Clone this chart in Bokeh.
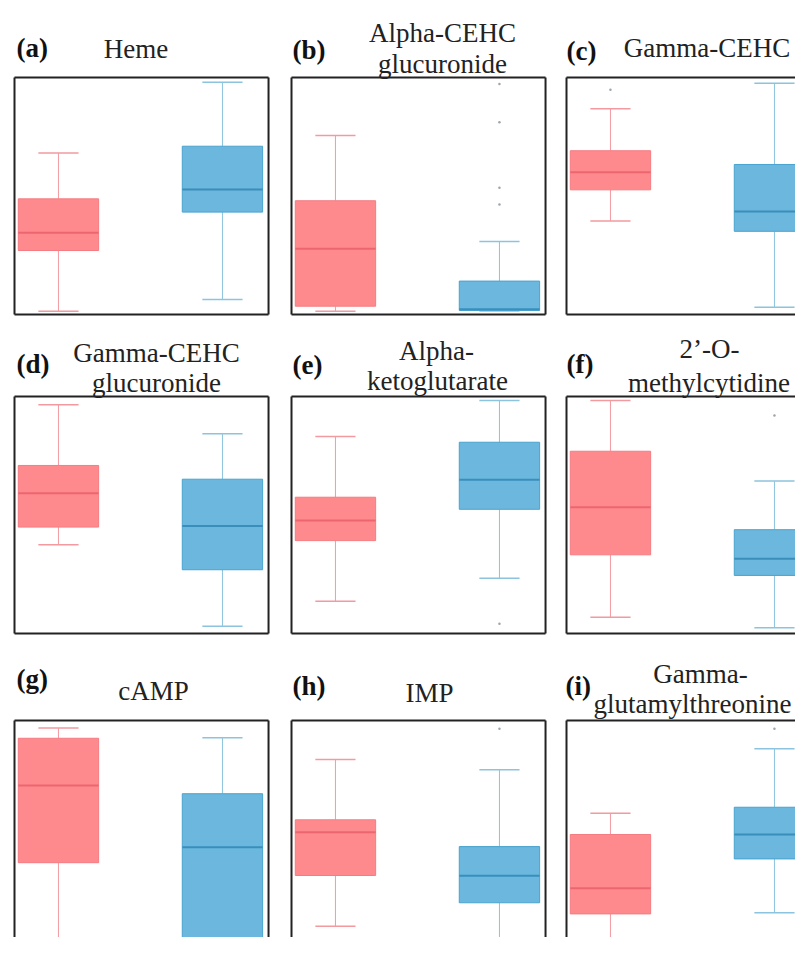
from bokeh.plotting import figure
from bokeh.layouts import column, row
from bokeh.models import Range1d, Label, ColumnDataSource
from bokeh.embed import file_html
from bokeh.resources import INLINE

# ---------------- data (arbitrary units 0-10) ----------------
tags = ["(a)", "(b)", "(c)", "(d)", "(e)", "(f)", "(g)", "(h)", "(i)"]
names = [["Heme"], ["Alpha-CEHC", "glucuronide"], ["Gamma-CEHC"],
         ["Gamma-CEHC", "glucuronide"], ["Alpha-", "ketoglutarate"], ["2\u2019-O-", "methylcytidine"],
         ["cAMP"], ["IMP"], ["Gamma-", "glutamylthreonine"]]
group_pos = [1, 2]  # red group, blue group

# [lower whisker, Q1, median, Q3, upper whisker]
red_stats = [
    [0.14, 2.70, 3.45, 4.88, 6.81],
    [0.14, 0.35, 2.77, 4.80, 7.55],
    [3.94, 5.26, 6.00, 6.91, 8.68],
    [3.74, 4.49, 5.92, 7.09, 9.65],
    [1.36, 3.92, 4.77, 5.75, 8.31],
    [0.69, 3.32, 5.33, 7.69, 9.83],
    [0.34, 4.00, 7.26, 9.25, 9.68],
    [1.32, 3.46, 5.29, 5.81, 8.35],
    [0.20, 1.84, 2.92, 5.19, 6.09],
]
blue_stats = [
    [0.63, 4.32, 5.27, 7.10, 9.80],
    [0.15, 0.17, 0.22, 1.41, 3.08],
    [0.31, 3.51, 4.35, 6.33, 9.76],
    [0.31, 2.69, 4.54, 6.51, 8.43],
    [2.33, 5.24, 6.49, 8.07, 9.83],
    [0.24, 2.45, 3.15, 4.38, 6.43],
    [0.30, 0.34, 4.65, 6.91, 9.27],
    [0.27, 2.31, 3.45, 4.68, 7.92],
    [1.89, 4.16, 5.19, 6.34, 8.81],
]
red_outliers = [[], [], [9.48], [], [], [], [], [], []]
blue_outliers = [[], [9.73, 8.11, 5.35, 4.64], [], [], [0.41], [9.20], [], [9.65], [9.65, 0.55]]

# panel value range (box frame) in data units
X_LO, X_HI = 0.732, 2.281
Y_LO, Y_HI = 0.0, 10.0

# ---------------- layout / style ----------------
FONT = "Liberation Serif"
FS = "27px"
BOX_W = 0.49
CAP_W = 0.245
RED = dict(fill="#FF8A8E", line="#F47C82", med="#EC6670", whisk="#F29AA0")
BLUE = dict(fill="#6BB7DD", line="#4AA3CF", med="#3A8EBC", whisk="#8CC3DE")
BORDER = "#222222"

PX_X = 164.0   # pixels per x unit
PX_Y = 23.7    # pixels per y unit
col_fig = [(0, 279), (279, 555), (555, 795)]     # figure extents (px)
col_box = [14, 291, 566]                          # panel frame left edge (px)
row_fig = [(0, 320), (320, 640), (640, 937)]
row_box = [314, 633, 957]                         # panel frame bottom edge (px)

# titles in page pixels: tag (left x, baseline y), lines [(center x, baseline y)]
title_pos = [
    ((16, 47.5), [(135.5, 48)]),
    ((292, 49), [(442, 32), (442, 63)]),
    ((566, 50), [(706.5, 47)]),
    ((16, 363), [(156, 352), (156, 382)]),
    ((292, 364), [(436, 350), (437, 380)]),
    ((566, 363), [(709, 348), (708.5, 382)]),
    ((16, 678), [(153, 690)]),
    ((292, 685), [(429, 692)]),
    ((565, 685), [(700, 673), (692, 703)]),
]


def draw_group(p, xpos, st, outs, c):
    lo, q1, med, q3, hi = st
    src = ColumnDataSource(dict(x=[xpos], lo=[lo], q1=[q1], med=[med], q3=[q3], hi=[hi],
                                ml=[xpos - BOX_W / 2], mr=[xpos + BOX_W / 2],
                                cl=[xpos - CAP_W / 2], cr=[xpos + CAP_W / 2]))
    p.segment(x0="x", x1="x", y0="q3", y1="hi", source=src, line_color=c["whisk"], line_width=1)
    p.segment(x0="x", x1="x", y0="lo", y1="q1", source=src, line_color=c["whisk"], line_width=1)
    p.segment(x0="cl", x1="cr", y0="hi", y1="hi", source=src, line_color=c["whisk"], line_width=1.5)
    p.segment(x0="cl", x1="cr", y0="lo", y1="lo", source=src, line_color=c["whisk"], line_width=1.5)
    p.vbar(x="x", width=BOX_W, bottom="q1", top="q3", source=src,
           fill_color=c["fill"], line_color=c["line"], line_width=1)
    p.segment(x0="ml", x1="mr", y0="med", y1="med", source=src, line_color=c["med"], line_width=2)
    if outs:
        p.scatter(x=[xpos] * len(outs), y=outs, size=2.5, color="#9AA6AE", line_color=None)


rows = []
for r in range(3):
    figs = []
    fy0, fy1 = row_fig[r]
    by = row_box[r]
    for c in range(3):
        i = r * 3 + c
        fx0, fx1 = col_fig[c]
        bx = col_box[c]
        xr = Range1d(X_LO - (bx - fx0) / PX_X, X_LO + (fx1 - bx) / PX_X)
        yr = Range1d(Y_LO - (fy1 - by) / PX_Y, Y_LO + (by - fy0) / PX_Y)
        p = figure(width=fx1 - fx0, height=fy1 - fy0, output_backend="svg", toolbar_location=None,
                   x_axis_type=None, y_axis_type=None, title=None,
                   x_range=xr, y_range=yr, min_border=0,
                   background_fill_color="white", border_fill_color="white")
        p.outline_line_color = None
        draw_group(p, group_pos[0], red_stats[i], red_outliers[i], RED)
        draw_group(p, group_pos[1], blue_stats[i], blue_outliers[i], BLUE)
        # panel border
        bx0, bx1, by0, by1 = [X_LO], [X_HI], [Y_LO], [Y_HI]
        p.segment(x0=[X_LO], x1=[X_LO], y0=[Y_LO], y1=[Y_HI], line_color=BORDER, line_width=2)
        p.segment(x0=[X_LO], x1=[X_HI], y0=[Y_HI], y1=[Y_HI], line_color=BORDER, line_width=2)
        p.segment(x0=[X_HI], x1=[X_HI], y0=[Y_LO], y1=[Y_HI], line_color=BORDER, line_width=2)
        p.segment(x0=[X_LO], x1=[X_HI], y0=[Y_LO], y1=[Y_LO], line_color=BORDER, line_width=2)
        # titles (screen units relative to the frame: x from left, y up from bottom)
        fh = fy1 - fy0
        (tx, ty), lines = title_pos[i]
        p.add_layout(Label(x=tx - fx0, y=fy1 - ty, x_units="screen", y_units="screen", text=tags[i],
                           text_font=FONT, text_font_size=FS, text_font_style="bold",
                           text_align="left", text_baseline="alphabetic", text_color="#111111"))
        for (lx, ly), txt in zip(lines, names[i]):
            p.add_layout(Label(x=lx - fx0, y=fy1 - ly, x_units="screen", y_units="screen", text=txt,
                               text_font=FONT, text_font_size=FS,
                               text_align="center", text_baseline="alphabetic", text_color="#222222"))
        figs.append(p)
    rows.append(row(*figs))

layout = column(*rows)
open("out.html", "w").write(file_html(layout, INLINE))
